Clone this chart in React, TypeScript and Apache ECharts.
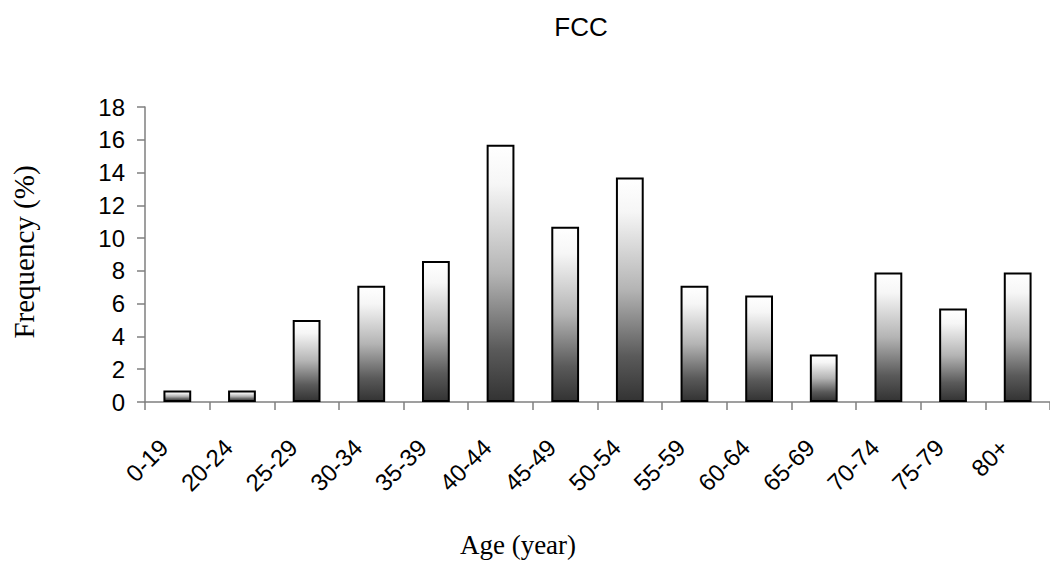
import React, { useEffect, useRef } from "react";
import * as echarts from "echarts";

const categories = ["0-19", "20-24", "25-29", "30-34", "35-39", "40-44", "45-49", "50-54", "55-59", "60-64", "65-69", "70-74", "75-79", "80+"];
const frequency = [0.7, 0.7, 5.0, 7.1, 8.6, 15.7, 10.7, 13.7, 7.1, 6.5, 2.9, 7.9, 5.7, 7.9];
const yTicks = { min: 0, max: 18, interval: 2 };
const titleText = "FCC";
const xName = "Age (year)";
const yName = "Frequency (%)";

export default function App() {
  const ref = useRef<HTMLDivElement>(null);
  useEffect(() => {
    if (!ref.current) return;
    const chart = echarts.init(ref.current, null, { renderer: "svg" });
    const grad = new echarts.graphic.LinearGradient(0, 0, 0, 1, [
      { offset: 0, color: "#ffffff" },
      { offset: 0.15, color: "#f6f6f6" },
      { offset: 0.5, color: "#b4b4b4" },
      { offset: 0.8, color: "#5a5a5a" },
      { offset: 1, color: "#333333" },
    ]);
    chart.setOption({
      animation: false,
      backgroundColor: "#ffffff",
      title: {
        text: titleText,
        left: 576,
        top: 9,
        textAlign: "center",
        textStyle: { fontFamily: "Liberation Sans", fontSize: 26, fontWeight: "normal", color: "#000" },
      },
      grid: { left: 145, right: -9, top: 107, bottom: 159, containLabel: false },
      graphic: [
        {
          type: "text",
          x: 518,
          y: 545,
          style: {
            text: xName,
            fontFamily: "Liberation Serif",
            fontSize: 27,
            fill: "#000",
            align: "center",
            verticalAlign: "middle",
          },
        },
        {
          type: "text",
          x: 24,
          y: 252,
          rotation: Math.PI / 2,
          style: {
            text: yName,
            fontFamily: "Liberation Serif",
            fontSize: 29,
            fill: "#000",
            align: "center",
            verticalAlign: "middle",
          },
        },
      ],
      xAxis: {
        type: "category",
        data: categories,
        axisLine: { lineStyle: { color: "#7f7f7f", width: 1.5 } },
        axisTick: { show: true, length: 8, lineStyle: { color: "#7f7f7f", width: 1.5 } },
        axisLabel: {
          rotate: 45,
          margin: 28,
          padding: [0, 19, 0, 0],
          fontFamily: "Liberation Sans",
          fontSize: 24,
          color: "#000",
        },
      },
      yAxis: {
        type: "value",
        min: yTicks.min,
        max: yTicks.max,
        interval: yTicks.interval,
        axisLine: { show: true, lineStyle: { color: "#7f7f7f", width: 1.5 } },
        axisTick: { show: true, length: 8, lineStyle: { color: "#7f7f7f", width: 1.5 } },
        axisLabel: { margin: 20, fontFamily: "Liberation Sans", fontSize: 24, color: "#000" },
        splitLine: { show: false },
      },
      series: [
        {
          type: "bar",
          data: frequency,
          barWidth: "43%",
          itemStyle: { color: grad, borderColor: "#000", borderWidth: 2 },
        },
      ],
    });
    return () => chart.dispose();
  }, []);
  return (
    <div style={{ position: "fixed", left: 0, top: 0, width: 1050, height: 561, overflow: "hidden", background: "#fff" }}>
      <div ref={ref} style={{ width: 1050, height: 561 }} />
    </div>
  );
}
